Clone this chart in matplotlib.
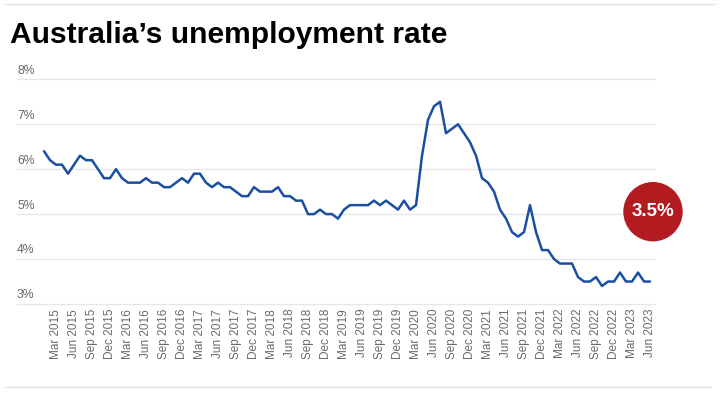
import matplotlib
matplotlib.use("Agg")
import matplotlib.pyplot as plt
import matplotlib.transforms as mtransforms
from matplotlib.patches import Ellipse
from matplotlib.lines import Line2D
import pandas as pd

plt.rcParams['font.family'] = ['Liberation Sans', 'DejaVu Sans']

# Monthly unemployment rate, Jan 2015 - Jun 2023 (%)
start_month = '2015-01-01'
end_month = '2023-06-01'
rates = [
    6.4, 6.2, 6.1, 6.1, 5.9, 6.1, 6.3, 6.2, 6.2, 6.0, 5.8, 5.8,   # 2015
    6.0, 5.8, 5.7, 5.7, 5.7, 5.8, 5.7, 5.7, 5.6, 5.6, 5.7, 5.8,   # 2016
    5.7, 5.9, 5.9, 5.7, 5.6, 5.7, 5.6, 5.6, 5.5, 5.4, 5.4, 5.6,   # 2017
    5.5, 5.5, 5.5, 5.6, 5.4, 5.4, 5.3, 5.3, 5.0, 5.0, 5.1, 5.0,   # 2018
    5.0, 4.9, 5.1, 5.2, 5.2, 5.2, 5.2, 5.3, 5.2, 5.3, 5.2, 5.1,   # 2019
    5.3, 5.1, 5.2, 6.3, 7.1, 7.4, 7.5, 6.8, 6.9, 7.0, 6.8, 6.6,   # 2020
    6.3, 5.8, 5.7, 5.5, 5.1, 4.9, 4.6, 4.5, 4.6, 5.2, 4.6, 4.2,   # 2021
    4.2, 4.0, 3.9, 3.9, 3.9, 3.6, 3.5, 3.5, 3.6, 3.4, 3.5, 3.5,   # 2022
    3.7, 3.5, 3.5, 3.7, 3.5, 3.5,                                 # 2023
]
y_ticks = [3, 4, 5, 6, 7, 8]
tick_months = [3, 6, 9, 12]
latest_label = "3.5%"
title = "Australia\u2019s unemployment rate"

months = pd.date_range(start_month, end_month, freq='MS')
x = list(range(len(months)))
tick_pos = [i for i, m in enumerate(months) if m.month in tick_months]
tick_lab = [months[i].strftime('%b %Y') for i in tick_pos]

W, H = 720, 393
fig = plt.figure(figsize=(W / 100, H / 100), dpi=100)
fig.patch.set_facecolor('white')

ax = fig.add_axes([17 / W, (H - 304) / H, (655 - 17) / W, (304 - 79.3) / H])
ax.set_xlim(-4.5, 101.83)
ax.set_ylim(3, 8)
for s in ax.spines.values():
    s.set_visible(False)

grid_col = '#e6e6e6'
for v in y_ticks:
    ax.axhline(v, color=grid_col, lw=0.9, zorder=0, clip_on=False)

trans = mtransforms.blended_transform_factory(ax.transAxes, ax.transData)
trans_off = mtransforms.offset_copy(trans, fig=fig, x=0, y=2.6, units='dots')
for v in y_ticks:
    ax.text(0, v, f"{v}%", transform=trans_off, ha='left', va='bottom',
            fontsize=8.8, color='#666666')

ax.tick_params(left=False, labelleft=False)
ax.set_xticks(tick_pos)
ax.set_xticklabels(tick_lab, rotation=90, fontsize=8.5, color='#6a6a6a')
ax.tick_params(axis='x', length=0, pad=3.5)

ax.plot(x, rates, color='#1a4fa3', lw=1.8, solid_joinstyle='round',
        solid_capstyle='round', clip_on=False, zorder=3)

# Highlight bubble
cx, cy, d = 653, 211.7, 58
fig.add_artist(Ellipse((cx / W, 1 - cy / H), d / W, d / H,
                       transform=fig.transFigure, color='#b21c21', zorder=5))
fig.text(cx / W, 1 - cy / H, latest_label, ha='center', va='center',
         fontsize=13.5, fontweight='bold', color='white', zorder=6)

# Title
fig.text(10 / W, 1 - 43.3 / H, title, ha='left', va='baseline',
         fontsize=21.6, fontweight='bold', color='black')

# Rules top and bottom
fig.add_artist(Line2D([5 / W, 715 / W], [1 - 4 / H] * 2, color='#e3e3e3', lw=1,
                      transform=fig.transFigure))
fig.add_artist(Line2D([5 / W, 711 / W], [1 - 387 / H] * 2, color='#e3e3e3', lw=1,
                      transform=fig.transFigure))

fig.savefig('out.png', dpi=100, facecolor='white')
